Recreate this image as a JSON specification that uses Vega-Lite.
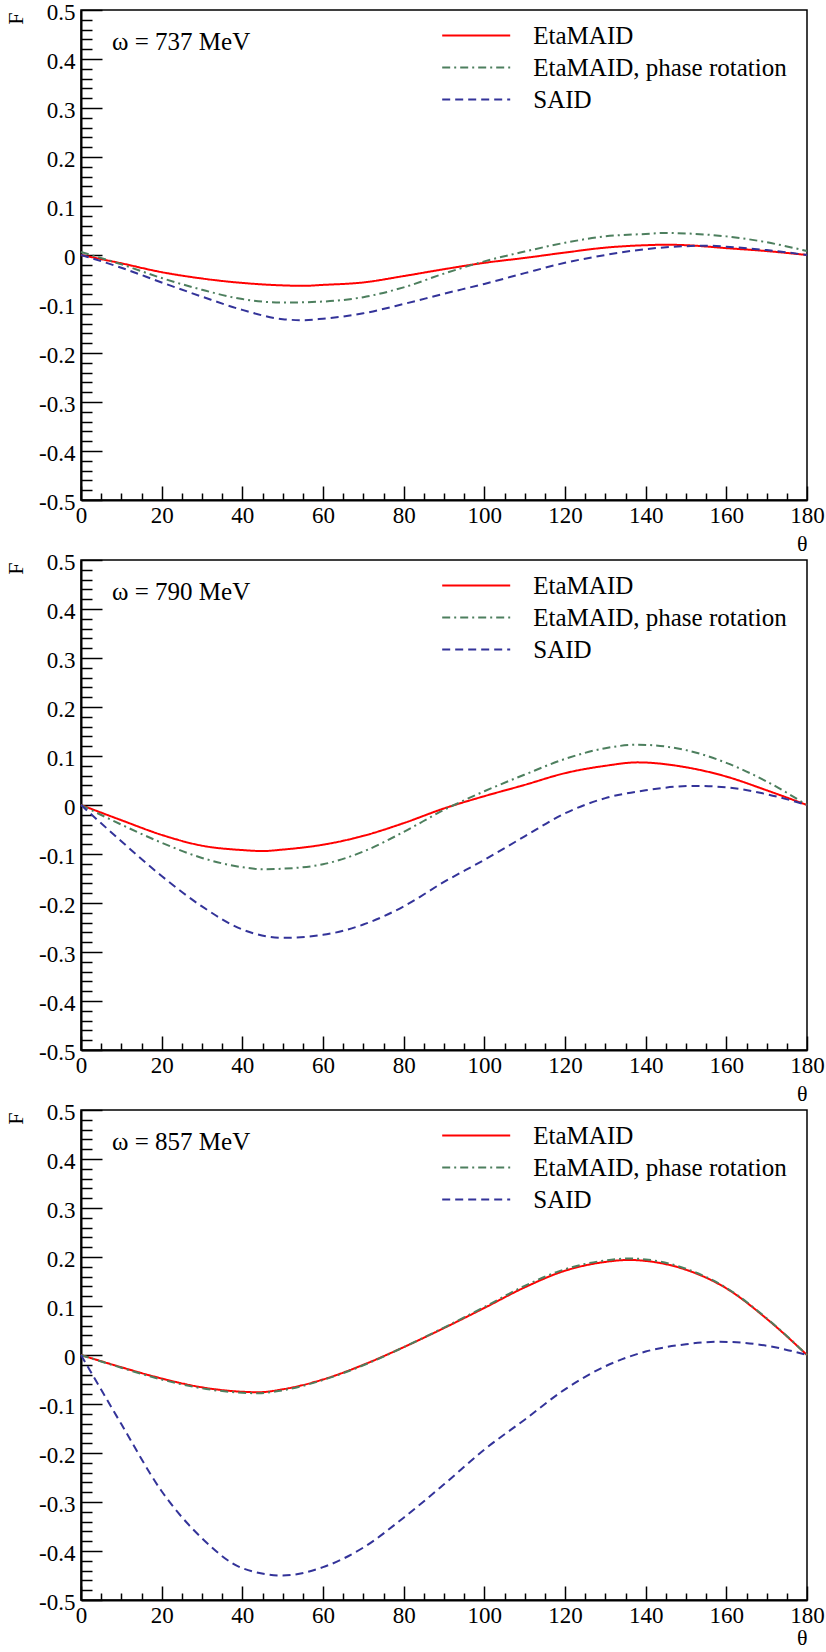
{
  "$schema": "https://vega.github.io/schema/vega-lite/v6.json",
  "padding": {"left": 3, "top": 0, "right": 0, "bottom": 0},
  "background": "white",
  "config": {
    "font": "Liberation Serif",
    "view": {"stroke": "black", "strokeWidth": 1.5},
    "style": {"guide-label": {"font": "Liberation Serif"}, "guide-title": {"font": "Liberation Serif"}},
    "axis": {"labelFont": "Liberation Serif", "labelFontSize": 23, "labelColor": "black", "titleFont": "Liberation Serif", "titleFontSize": 22, "titleFontWeight": "normal", "titleColor": "black", "grid": false, "domainColor": "black", "tickColor": "black", "labelFlush": false, "labelOverlap": false}
  },
  "datasets": {
    "curves": [
      {"w":737,"s":"EtaMAID","t":0,"F":0},{"w":737,"s":"EtaMAID","t":10,"F":-0.017},{"w":737,"s":"EtaMAID","t":20,"F":-0.035},{"w":737,"s":"EtaMAID","t":30,"F":-0.048},{"w":737,"s":"EtaMAID","t":40,"F":-0.057},{"w":737,"s":"EtaMAID","t":50,"F":-0.062},{"w":737,"s":"EtaMAID","t":55,"F":-0.063},{"w":737,"s":"EtaMAID","t":60,"F":-0.061},{"w":737,"s":"EtaMAID","t":70,"F":-0.056},{"w":737,"s":"EtaMAID","t":80,"F":-0.043},{"w":737,"s":"EtaMAID","t":90,"F":-0.029},{"w":737,"s":"EtaMAID","t":100,"F":-0.016},{"w":737,"s":"EtaMAID","t":110,"F":-0.006},{"w":737,"s":"EtaMAID","t":120,"F":0.005},{"w":737,"s":"EtaMAID","t":130,"F":0.015},{"w":737,"s":"EtaMAID","t":140,"F":0.02},{"w":737,"s":"EtaMAID","t":145,"F":0.021},{"w":737,"s":"EtaMAID","t":150,"F":0.02},{"w":737,"s":"EtaMAID","t":160,"F":0.014},{"w":737,"s":"EtaMAID","t":170,"F":0.008},{"w":737,"s":"EtaMAID","t":180,"F":0},
      {"w":737,"s":"EtaMAID, phase rotation","t":0,"F":0.006},{"w":737,"s":"EtaMAID, phase rotation","t":10,"F":-0.019},{"w":737,"s":"EtaMAID, phase rotation","t":20,"F":-0.047},{"w":737,"s":"EtaMAID, phase rotation","t":30,"F":-0.071},{"w":737,"s":"EtaMAID, phase rotation","t":40,"F":-0.09},{"w":737,"s":"EtaMAID, phase rotation","t":50,"F":-0.097},{"w":737,"s":"EtaMAID, phase rotation","t":60,"F":-0.095},{"w":737,"s":"EtaMAID, phase rotation","t":70,"F":-0.086},{"w":737,"s":"EtaMAID, phase rotation","t":80,"F":-0.066},{"w":737,"s":"EtaMAID, phase rotation","t":90,"F":-0.038},{"w":737,"s":"EtaMAID, phase rotation","t":100,"F":-0.013},{"w":737,"s":"EtaMAID, phase rotation","t":110,"F":0.007},{"w":737,"s":"EtaMAID, phase rotation","t":120,"F":0.025},{"w":737,"s":"EtaMAID, phase rotation","t":130,"F":0.038},{"w":737,"s":"EtaMAID, phase rotation","t":140,"F":0.043},{"w":737,"s":"EtaMAID, phase rotation","t":145,"F":0.045},{"w":737,"s":"EtaMAID, phase rotation","t":150,"F":0.044},{"w":737,"s":"EtaMAID, phase rotation","t":160,"F":0.038},{"w":737,"s":"EtaMAID, phase rotation","t":170,"F":0.026},{"w":737,"s":"EtaMAID, phase rotation","t":180,"F":0.008},
      {"w":737,"s":"SAID","t":0,"F":0},{"w":737,"s":"SAID","t":10,"F":-0.026},{"w":737,"s":"SAID","t":20,"F":-0.056},{"w":737,"s":"SAID","t":30,"F":-0.085},{"w":737,"s":"SAID","t":40,"F":-0.112},{"w":737,"s":"SAID","t":50,"F":-0.131},{"w":737,"s":"SAID","t":55,"F":-0.133},{"w":737,"s":"SAID","t":60,"F":-0.13},{"w":737,"s":"SAID","t":70,"F":-0.119},{"w":737,"s":"SAID","t":80,"F":-0.1},{"w":737,"s":"SAID","t":90,"F":-0.079},{"w":737,"s":"SAID","t":100,"F":-0.059},{"w":737,"s":"SAID","t":110,"F":-0.037},{"w":737,"s":"SAID","t":120,"F":-0.016},{"w":737,"s":"SAID","t":130,"F":0.0},{"w":737,"s":"SAID","t":140,"F":0.012},{"w":737,"s":"SAID","t":150,"F":0.018},{"w":737,"s":"SAID","t":155,"F":0.019},{"w":737,"s":"SAID","t":160,"F":0.017},{"w":737,"s":"SAID","t":170,"F":0.01},{"w":737,"s":"SAID","t":180,"F":0},
      {"w":790,"s":"EtaMAID","t":0,"F":0},{"w":790,"s":"EtaMAID","t":10,"F":-0.031},{"w":790,"s":"EtaMAID","t":20,"F":-0.061},{"w":790,"s":"EtaMAID","t":30,"F":-0.083},{"w":790,"s":"EtaMAID","t":40,"F":-0.092},{"w":790,"s":"EtaMAID","t":45,"F":-0.094},{"w":790,"s":"EtaMAID","t":50,"F":-0.091},{"w":790,"s":"EtaMAID","t":60,"F":-0.081},{"w":790,"s":"EtaMAID","t":70,"F":-0.063},{"w":790,"s":"EtaMAID","t":80,"F":-0.037},{"w":790,"s":"EtaMAID","t":90,"F":-0.007},{"w":790,"s":"EtaMAID","t":100,"F":0.018},{"w":790,"s":"EtaMAID","t":110,"F":0.041},{"w":790,"s":"EtaMAID","t":120,"F":0.065},{"w":790,"s":"EtaMAID","t":130,"F":0.08},{"w":790,"s":"EtaMAID","t":138,"F":0.087},{"w":790,"s":"EtaMAID","t":150,"F":0.077},{"w":790,"s":"EtaMAID","t":160,"F":0.058},{"w":790,"s":"EtaMAID","t":170,"F":0.03},{"w":790,"s":"EtaMAID","t":180,"F":0},
      {"w":790,"s":"EtaMAID, phase rotation","t":0,"F":0},{"w":790,"s":"EtaMAID, phase rotation","t":10,"F":-0.04},{"w":790,"s":"EtaMAID, phase rotation","t":20,"F":-0.077},{"w":790,"s":"EtaMAID, phase rotation","t":30,"F":-0.108},{"w":790,"s":"EtaMAID, phase rotation","t":40,"F":-0.127},{"w":790,"s":"EtaMAID, phase rotation","t":45,"F":-0.131},{"w":790,"s":"EtaMAID, phase rotation","t":50,"F":-0.13},{"w":790,"s":"EtaMAID, phase rotation","t":60,"F":-0.121},{"w":790,"s":"EtaMAID, phase rotation","t":70,"F":-0.095},{"w":790,"s":"EtaMAID, phase rotation","t":80,"F":-0.055},{"w":790,"s":"EtaMAID, phase rotation","t":90,"F":-0.01},{"w":790,"s":"EtaMAID, phase rotation","t":100,"F":0.028},{"w":790,"s":"EtaMAID, phase rotation","t":110,"F":0.062},{"w":790,"s":"EtaMAID, phase rotation","t":120,"F":0.094},{"w":790,"s":"EtaMAID, phase rotation","t":130,"F":0.116},{"w":790,"s":"EtaMAID, phase rotation","t":138,"F":0.123},{"w":790,"s":"EtaMAID, phase rotation","t":150,"F":0.112},{"w":790,"s":"EtaMAID, phase rotation","t":160,"F":0.086},{"w":790,"s":"EtaMAID, phase rotation","t":170,"F":0.048},{"w":790,"s":"EtaMAID, phase rotation","t":180,"F":0},
      {"w":790,"s":"SAID","t":0,"F":0},{"w":790,"s":"SAID","t":10,"F":-0.074},{"w":790,"s":"SAID","t":20,"F":-0.145},{"w":790,"s":"SAID","t":30,"F":-0.207},{"w":790,"s":"SAID","t":40,"F":-0.254},{"w":790,"s":"SAID","t":50,"F":-0.271},{"w":790,"s":"SAID","t":60,"F":-0.265},{"w":790,"s":"SAID","t":70,"F":-0.244},{"w":790,"s":"SAID","t":80,"F":-0.207},{"w":790,"s":"SAID","t":90,"F":-0.157},{"w":790,"s":"SAID","t":100,"F":-0.112},{"w":790,"s":"SAID","t":110,"F":-0.064},{"w":790,"s":"SAID","t":120,"F":-0.017},{"w":790,"s":"SAID","t":130,"F":0.014},{"w":790,"s":"SAID","t":140,"F":0.03},{"w":790,"s":"SAID","t":152,"F":0.039},{"w":790,"s":"SAID","t":160,"F":0.036},{"w":790,"s":"SAID","t":170,"F":0.022},{"w":790,"s":"SAID","t":180,"F":0},
      {"w":857,"s":"EtaMAID","t":0,"F":0},{"w":857,"s":"EtaMAID","t":10,"F":-0.025},{"w":857,"s":"EtaMAID","t":20,"F":-0.048},{"w":857,"s":"EtaMAID","t":30,"F":-0.066},{"w":857,"s":"EtaMAID","t":40,"F":-0.075},{"w":857,"s":"EtaMAID","t":44,"F":-0.076},{"w":857,"s":"EtaMAID","t":50,"F":-0.07},{"w":857,"s":"EtaMAID","t":60,"F":-0.05},{"w":857,"s":"EtaMAID","t":70,"F":-0.02},{"w":857,"s":"EtaMAID","t":80,"F":0.016},{"w":857,"s":"EtaMAID","t":90,"F":0.055},{"w":857,"s":"EtaMAID","t":100,"F":0.096},{"w":857,"s":"EtaMAID","t":110,"F":0.138},{"w":857,"s":"EtaMAID","t":120,"F":0.172},{"w":857,"s":"EtaMAID","t":130,"F":0.19},{"w":857,"s":"EtaMAID","t":136,"F":0.194},{"w":857,"s":"EtaMAID","t":140,"F":0.192},{"w":857,"s":"EtaMAID","t":150,"F":0.174},{"w":857,"s":"EtaMAID","t":160,"F":0.136},{"w":857,"s":"EtaMAID","t":170,"F":0.074},{"w":857,"s":"EtaMAID","t":180,"F":0},
      {"w":857,"s":"EtaMAID, phase rotation","t":0,"F":0},{"w":857,"s":"EtaMAID, phase rotation","t":10,"F":-0.026},{"w":857,"s":"EtaMAID, phase rotation","t":20,"F":-0.05},{"w":857,"s":"EtaMAID, phase rotation","t":30,"F":-0.068},{"w":857,"s":"EtaMAID, phase rotation","t":40,"F":-0.077},{"w":857,"s":"EtaMAID, phase rotation","t":44,"F":-0.078},{"w":857,"s":"EtaMAID, phase rotation","t":50,"F":-0.072},{"w":857,"s":"EtaMAID, phase rotation","t":60,"F":-0.051},{"w":857,"s":"EtaMAID, phase rotation","t":70,"F":-0.021},{"w":857,"s":"EtaMAID, phase rotation","t":80,"F":0.016},{"w":857,"s":"EtaMAID, phase rotation","t":90,"F":0.056},{"w":857,"s":"EtaMAID, phase rotation","t":100,"F":0.098},{"w":857,"s":"EtaMAID, phase rotation","t":110,"F":0.141},{"w":857,"s":"EtaMAID, phase rotation","t":120,"F":0.175},{"w":857,"s":"EtaMAID, phase rotation","t":130,"F":0.193},{"w":857,"s":"EtaMAID, phase rotation","t":136,"F":0.197},{"w":857,"s":"EtaMAID, phase rotation","t":140,"F":0.195},{"w":857,"s":"EtaMAID, phase rotation","t":150,"F":0.176},{"w":857,"s":"EtaMAID, phase rotation","t":160,"F":0.137},{"w":857,"s":"EtaMAID, phase rotation","t":170,"F":0.075},{"w":857,"s":"EtaMAID, phase rotation","t":180,"F":0},
      {"w":857,"s":"SAID","t":0,"F":0},{"w":857,"s":"SAID","t":10,"F":-0.141},{"w":857,"s":"SAID","t":20,"F":-0.278},{"w":857,"s":"SAID","t":30,"F":-0.374},{"w":857,"s":"SAID","t":40,"F":-0.435},{"w":857,"s":"SAID","t":50,"F":-0.45},{"w":857,"s":"SAID","t":60,"F":-0.433},{"w":857,"s":"SAID","t":70,"F":-0.393},{"w":857,"s":"SAID","t":80,"F":-0.332},{"w":857,"s":"SAID","t":90,"F":-0.264},{"w":857,"s":"SAID","t":100,"F":-0.193},{"w":857,"s":"SAID","t":110,"F":-0.132},{"w":857,"s":"SAID","t":120,"F":-0.07},{"w":857,"s":"SAID","t":130,"F":-0.023},{"w":857,"s":"SAID","t":140,"F":0.007},{"w":857,"s":"SAID","t":150,"F":0.022},{"w":857,"s":"SAID","t":158,"F":0.027},{"w":857,"s":"SAID","t":170,"F":0.019},{"w":857,"s":"SAID","t":180,"F":0}
    ]
  },
  "spacing": 60,
  "bounds": "flush",
  "resolve": {"scale": {"color": "independent", "strokeDash": "independent"}},
  "vconcat": [
    {
      "width": 726, "height": 490,
      "resolve": {"axis": {"x": "independent", "y": "independent"}},
      "layer": [
        {
          "data": {"name": "curves"},
          "transform": [{"filter": "datum.w == 737"}],
          "mark": {"type": "line", "strokeWidth": 2, "interpolate": "monotone"},
          "encoding": {
            "x": {"field": "t", "type": "quantitative", "scale": {"domain": [0, 180], "nice": false, "zero": false}, "axis": {"orient": "bottom", "values": [0,20,40,60,80,100,120,140,160,180], "labelFont": "Liberation Serif", "titleFont": "Liberation Serif", "tickSize": -14, "tickWidth": 1.5, "labelPadding": 18, "domainWidth": 2, "title": "θ", "titleX": 726, "titleY": 50, "titleAlign": "right", "titleBaseline": "alphabetic", "titleAngle": 0}},
            "y": {"field": "F", "type": "quantitative", "scale": {"domain": [-0.5, 0.5], "nice": false, "zero": false}, "axis": {"orient": "left", "values": [-0.5,-0.4,-0.3,-0.2,-0.1,0,0.1,0.2,0.3,0.4,0.5], "labelExpr": "abs(datum.value) < 1e-9 ? '0' : (datum.value < 0 ? '-' + format(-datum.value, '.1f') : format(datum.value, '.1f'))", "labelFont": "Liberation Serif", "titleFont": "Liberation Serif", "tickSize": -21, "tickWidth": 1.5, "labelPadding": 27, "labelOffset": 2, "domainWidth": 2, "title": "F", "titleX": -76, "titleY": 2, "titleAngle": 270, "titleAlign": "right", "titleBaseline": "top"}},
            "color": {"field": "s", "type": "nominal", "scale": {"domain": ["EtaMAID", "EtaMAID, phase rotation", "SAID"], "range": ["#ff0000", "#4d7f5e", "#333399"]}, "legend": {"orient": "none", "legendX": 382.7, "legendY": 13, "title": null, "symbolType": "M-3,0H3", "symbolSize": 514, "symbolStrokeWidth": 2, "labelOffset": 44.6, "labelFontSize": 25, "labelFont": "Liberation Serif", "labelColor": "black", "rowPadding": 6, "padding": 0, "labelLimit": 400}},
            "strokeDash": {"field": "s", "type": "nominal", "scale": {"domain": ["EtaMAID", "EtaMAID, phase rotation", "SAID"], "range": [[1, 0], [8, 4, 2, 4], [8, 5]]}, "legend": {"orient": "none", "legendX": 382.7, "legendY": 13, "title": null, "symbolType": "M-3,0H3", "symbolSize": 514, "symbolStrokeWidth": 2, "labelOffset": 44.6, "labelFontSize": 25, "labelFont": "Liberation Serif", "labelColor": "black", "rowPadding": 6, "padding": 0, "labelLimit": 400}}
          }
        },
        {
          "data": {"values": [{"label": "ω = 737 MeV"}]},
          "mark": {"type": "text", "align": "left", "baseline": "alphabetic", "fontSize": 25, "font": "Liberation Serif", "color": "black"},
          "encoding": {
            "x": {"datum": 7.7, "type": "quantitative", "axis": {"orient": "bottom", "values": [5,10,15,25,30,35,45,50,55,65,70,75,85,90,95,105,110,115,125,130,135,145,150,155,165,170,175], "tickSize": -7, "tickWidth": 1.5, "labels": false, "domain": false, "title": null}},
            "y": {"datum": 0.418, "type": "quantitative", "axis": {"orient": "left", "values": [-0.48,-0.46,-0.44,-0.42,-0.38,-0.36,-0.34,-0.32,-0.28,-0.26,-0.24,-0.22,-0.18,-0.16,-0.14,-0.12,-0.08,-0.06,-0.04,-0.02,0.02,0.04,0.06,0.08,0.12,0.14,0.16,0.18,0.22,0.24,0.26,0.28,0.32,0.34,0.36,0.38,0.42,0.44,0.46,0.48], "tickSize": -11, "tickWidth": 1.5, "labels": false, "domain": false, "title": null}},
            "text": {"field": "label"}
          }
        }
      ]
    },
    {
      "width": 726, "height": 490,
      "resolve": {"axis": {"x": "independent", "y": "independent"}},
      "layer": [
        {
          "data": {"name": "curves"},
          "transform": [{"filter": "datum.w == 790"}],
          "mark": {"type": "line", "strokeWidth": 2, "interpolate": "monotone"},
          "encoding": {
            "x": {"field": "t", "type": "quantitative", "scale": {"domain": [0, 180], "nice": false, "zero": false}, "axis": {"orient": "bottom", "values": [0,20,40,60,80,100,120,140,160,180], "labelFont": "Liberation Serif", "titleFont": "Liberation Serif", "tickSize": -14, "tickWidth": 1.5, "labelPadding": 18, "domainWidth": 2, "title": "θ", "titleX": 726, "titleY": 50, "titleAlign": "right", "titleBaseline": "alphabetic", "titleAngle": 0}},
            "y": {"field": "F", "type": "quantitative", "scale": {"domain": [-0.5, 0.5], "nice": false, "zero": false}, "axis": {"orient": "left", "values": [-0.5,-0.4,-0.3,-0.2,-0.1,0,0.1,0.2,0.3,0.4,0.5], "labelExpr": "abs(datum.value) < 1e-9 ? '0' : (datum.value < 0 ? '-' + format(-datum.value, '.1f') : format(datum.value, '.1f'))", "labelFont": "Liberation Serif", "titleFont": "Liberation Serif", "tickSize": -21, "tickWidth": 1.5, "labelPadding": 27, "labelOffset": 2, "domainWidth": 2, "title": "F", "titleX": -76, "titleY": 2, "titleAngle": 270, "titleAlign": "right", "titleBaseline": "top"}},
            "color": {"field": "s", "type": "nominal", "scale": {"domain": ["EtaMAID", "EtaMAID, phase rotation", "SAID"], "range": ["#ff0000", "#4d7f5e", "#333399"]}, "legend": {"orient": "none", "legendX": 382.7, "legendY": 13, "title": null, "symbolType": "M-3,0H3", "symbolSize": 514, "symbolStrokeWidth": 2, "labelOffset": 44.6, "labelFontSize": 25, "labelFont": "Liberation Serif", "labelColor": "black", "rowPadding": 6, "padding": 0, "labelLimit": 400}},
            "strokeDash": {"field": "s", "type": "nominal", "scale": {"domain": ["EtaMAID", "EtaMAID, phase rotation", "SAID"], "range": [[1, 0], [8, 4, 2, 4], [8, 5]]}, "legend": {"orient": "none", "legendX": 382.7, "legendY": 13, "title": null, "symbolType": "M-3,0H3", "symbolSize": 514, "symbolStrokeWidth": 2, "labelOffset": 44.6, "labelFontSize": 25, "labelFont": "Liberation Serif", "labelColor": "black", "rowPadding": 6, "padding": 0, "labelLimit": 400}}
          }
        },
        {
          "data": {"values": [{"label": "ω = 790 MeV"}]},
          "mark": {"type": "text", "align": "left", "baseline": "alphabetic", "fontSize": 25, "font": "Liberation Serif", "color": "black"},
          "encoding": {
            "x": {"datum": 7.7, "type": "quantitative", "axis": {"orient": "bottom", "values": [5,10,15,25,30,35,45,50,55,65,70,75,85,90,95,105,110,115,125,130,135,145,150,155,165,170,175], "tickSize": -7, "tickWidth": 1.5, "labels": false, "domain": false, "title": null}},
            "y": {"datum": 0.418, "type": "quantitative", "axis": {"orient": "left", "values": [-0.48,-0.46,-0.44,-0.42,-0.38,-0.36,-0.34,-0.32,-0.28,-0.26,-0.24,-0.22,-0.18,-0.16,-0.14,-0.12,-0.08,-0.06,-0.04,-0.02,0.02,0.04,0.06,0.08,0.12,0.14,0.16,0.18,0.22,0.24,0.26,0.28,0.32,0.34,0.36,0.38,0.42,0.44,0.46,0.48], "tickSize": -11, "tickWidth": 1.5, "labels": false, "domain": false, "title": null}},
            "text": {"field": "label"}
          }
        }
      ]
    },
    {
      "width": 726, "height": 490,
      "resolve": {"axis": {"x": "independent", "y": "independent"}},
      "layer": [
        {
          "data": {"name": "curves"},
          "transform": [{"filter": "datum.w == 857"}],
          "mark": {"type": "line", "strokeWidth": 2, "interpolate": "monotone"},
          "encoding": {
            "x": {"field": "t", "type": "quantitative", "scale": {"domain": [0, 180], "nice": false, "zero": false}, "axis": {"orient": "bottom", "values": [0,20,40,60,80,100,120,140,160,180], "labelFont": "Liberation Serif", "titleFont": "Liberation Serif", "tickSize": -14, "tickWidth": 1.5, "labelPadding": 18, "domainWidth": 2, "title": "θ", "titleX": 726, "titleY": 44, "titleAlign": "right", "titleBaseline": "alphabetic", "titleAngle": 0}},
            "y": {"field": "F", "type": "quantitative", "scale": {"domain": [-0.5, 0.5], "nice": false, "zero": false}, "axis": {"orient": "left", "values": [-0.5,-0.4,-0.3,-0.2,-0.1,0,0.1,0.2,0.3,0.4,0.5], "labelExpr": "abs(datum.value) < 1e-9 ? '0' : (datum.value < 0 ? '-' + format(-datum.value, '.1f') : format(datum.value, '.1f'))", "labelFont": "Liberation Serif", "titleFont": "Liberation Serif", "tickSize": -21, "tickWidth": 1.5, "labelPadding": 27, "labelOffset": 2, "domainWidth": 2, "title": "F", "titleX": -76, "titleY": 2, "titleAngle": 270, "titleAlign": "right", "titleBaseline": "top"}},
            "color": {"field": "s", "type": "nominal", "scale": {"domain": ["EtaMAID", "EtaMAID, phase rotation", "SAID"], "range": ["#ff0000", "#4d7f5e", "#333399"]}, "legend": {"orient": "none", "legendX": 382.7, "legendY": 13, "title": null, "symbolType": "M-3,0H3", "symbolSize": 514, "symbolStrokeWidth": 2, "labelOffset": 44.6, "labelFontSize": 25, "labelFont": "Liberation Serif", "labelColor": "black", "rowPadding": 6, "padding": 0, "labelLimit": 400}},
            "strokeDash": {"field": "s", "type": "nominal", "scale": {"domain": ["EtaMAID", "EtaMAID, phase rotation", "SAID"], "range": [[1, 0], [8, 4, 2, 4], [8, 5]]}, "legend": {"orient": "none", "legendX": 382.7, "legendY": 13, "title": null, "symbolType": "M-3,0H3", "symbolSize": 514, "symbolStrokeWidth": 2, "labelOffset": 44.6, "labelFontSize": 25, "labelFont": "Liberation Serif", "labelColor": "black", "rowPadding": 6, "padding": 0, "labelLimit": 400}}
          }
        },
        {
          "data": {"values": [{"label": "ω = 857 MeV"}]},
          "mark": {"type": "text", "align": "left", "baseline": "alphabetic", "fontSize": 25, "font": "Liberation Serif", "color": "black"},
          "encoding": {
            "x": {"datum": 7.7, "type": "quantitative", "axis": {"orient": "bottom", "values": [5,10,15,25,30,35,45,50,55,65,70,75,85,90,95,105,110,115,125,130,135,145,150,155,165,170,175], "tickSize": -7, "tickWidth": 1.5, "labels": false, "domain": false, "title": null}},
            "y": {"datum": 0.418, "type": "quantitative", "axis": {"orient": "left", "values": [-0.48,-0.46,-0.44,-0.42,-0.38,-0.36,-0.34,-0.32,-0.28,-0.26,-0.24,-0.22,-0.18,-0.16,-0.14,-0.12,-0.08,-0.06,-0.04,-0.02,0.02,0.04,0.06,0.08,0.12,0.14,0.16,0.18,0.22,0.24,0.26,0.28,0.32,0.34,0.36,0.38,0.42,0.44,0.46,0.48], "tickSize": -11, "tickWidth": 1.5, "labels": false, "domain": false, "title": null}},
            "text": {"field": "label"}
          }
        }
      ]
    }
  ]
}
